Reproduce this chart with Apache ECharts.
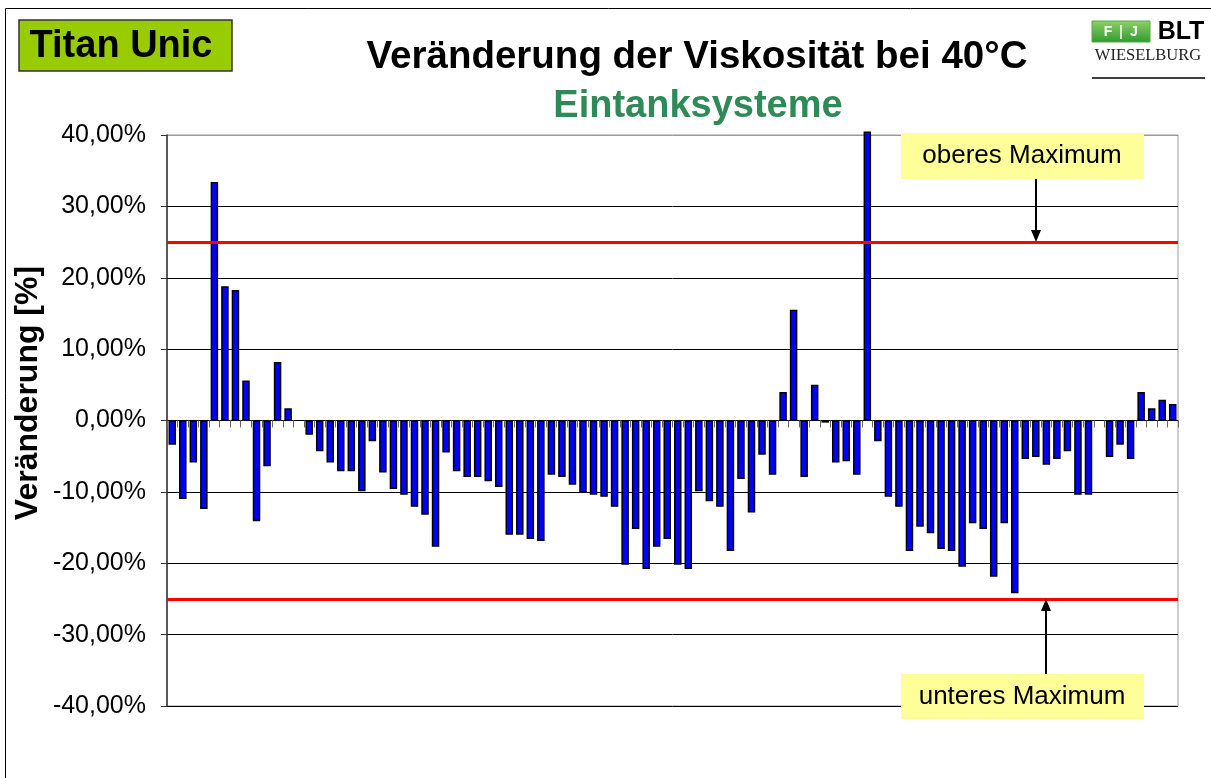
<!DOCTYPE html>
<html>
<head>
<meta charset="utf-8">
<title>Veränderung der Viskosität bei 40°C</title>
<script src="https://cdn.jsdelivr.net/npm/echarts@6/dist/echarts.min.js"></script>
<style>
  html, body { margin: 0; padding: 0; background: #fff; }
  #chart { width: 1211px; height: 778px; }
</style>
</head>
<body>
<div id="chart"></div>
<script>
// Veränderung der Viskosität je Probe [%] (null = kein Wert)
var werte = [
  -3.4, -11.0, -5.9, -12.4, 33.4, 18.8, 18.3, 5.6, -14.1, -6.4,
  8.2, 1.7, null, -2.0, -4.3, -5.9, -7.1, -7.1, -9.9, -2.9,
  -7.3, -9.6, -10.4, -12.1, -13.2, -17.7, -4.5, -7.1, -7.9, -7.9,
  -8.5, -9.3, -16.0, -16.0, -16.6, -16.9, -7.6, -7.9, -9.0, -10.1,
  -10.4, -10.7, -12.1, -20.2, -15.2, -20.8, -17.7, -16.6, -20.2, -20.8,
  -9.9, -11.3, -12.1, -18.3, -8.2, -12.9, -4.8, -7.6, 4.0, 15.5,
  -7.9, 5.0, -0.3, -5.9, -5.7, -7.6, 40.5, -2.9, -10.7, -12.1,
  -18.3, -14.9, -15.8, -18.0, -18.3, -20.5, -14.4, -15.2, -21.9, -14.4,
  -24.2, -5.4, -5.1, -6.2, -5.4, -4.3, -10.4, -10.4, null, -5.1,
  -3.4, -5.4, 4.0, 1.7, 2.9, 2.3
];
var proben = werte.map(function (v, i) { return String(i + 1); });
// Grenzwerte: oberes / unteres Maximum
var grenzen = [25, -25];
var yTicks = [-40, -30, -20, -10, 0, 10, 20, 30, 40];

var FONT = "'Liberation Sans', Arial, sans-serif";

(function () {
  var myChart = echarts.init(document.getElementById('chart'));
  var option = {
    animation: false,
    backgroundColor: '#fff',
    grid: {
      left: 167,
      right: 33,
      top: 135,
      bottom: 72,
      show: true,
      borderColor: '#999',
      borderWidth: 1
    },
    xAxis: {
      type: 'category',
      data: proben,
      axisLine: { onZero: true, lineStyle: { color: '#000', width: 1 } },
      axisTick: { show: true, interval: 0, length: 7, lineStyle: { color: '#666' } },
      axisLabel: { show: false },
      splitLine: { show: false }
    },
    yAxis: {
      type: 'value',
      min: yTicks[0],
      max: yTicks[yTicks.length - 1],
      interval: 10,
      axisLine: { show: true, lineStyle: { color: '#333', width: 1.5 } },
      axisTick: { show: true, length: 6, lineStyle: { color: '#333' } },
      axisLabel: {
        color: '#000',
        fontSize: 25,
        fontFamily: FONT,
        margin: 21,
        formatter: function (v) { return v.toFixed(2).replace('.', ',') + '%'; }
      },
      splitLine: {
        show: true,
        lineStyle: {
          color: ['#000', '#000', '#000', '#000', '#000', '#000', '#000', '#000', '#999'],
          width: 1
        }
      }
    },
    series: [{
      type: 'bar',
      data: werte,
      barWidth: 7.5,
      clip: false,
      itemStyle: { color: '#0000ff', borderColor: '#000', borderWidth: 1.5 },
      markLine: {
        silent: true,
        symbol: ['none', 'none'],
        label: { show: false },
        lineStyle: { color: '#ff0000', width: 3, type: 'solid' },
        data: grenzen.map(function (g) { return { yAxis: g }; })
      }
    }]
  };
  myChart.setOption(option);

  // Beschriftungen, Pfeile, Logo
  function zeichne() {
    var yOben = myChart.convertToPixel({ yAxisIndex: 0 }, grenzen[0]);
    var yUnten = myChart.convertToPixel({ yAxisIndex: 0 }, grenzen[1]);
    var g = [
      { type: 'rect', shape: { x: 5.5, y: 8.5, width: 1210, height: 780 },
        style: { fill: 'none', stroke: '#000', lineWidth: 1 }, z: 0 },
      { type: 'rect', shape: { x: 19, y: 20, width: 213, height: 51 },
        style: { fill: '#99cc00', stroke: '#333', lineWidth: 1.5 } },
      { type: 'text', x: 121, y: 47, style: { text: 'Titan Unic', fill: '#000',
        font: 'bold 38px ' + FONT, textAlign: 'center', textVerticalAlign: 'middle' } },
      { type: 'text', x: 697, y: 57, style: { text: 'Veränderung der Viskosität bei 40°C', fill: '#000',
        font: 'bold 38.5px ' + FONT, textAlign: 'center', textVerticalAlign: 'middle' } },
      { type: 'text', x: 698, y: 107, style: { text: 'Eintanksysteme', fill: '#2e8b57',
        font: 'bold 38px ' + FONT, textAlign: 'center', textVerticalAlign: 'middle' } },
      { type: 'text', x: 28, y: 393, rotation: Math.PI / 2, style: { text: 'Veränderung [%]', fill: '#000',
        font: 'bold 32px ' + FONT, textAlign: 'center', textVerticalAlign: 'middle' } },
      // oberes Maximum
      { type: 'rect', shape: { x: 901, y: 133, width: 243, height: 46 },
        style: { fill: '#ffff99', stroke: 'none' }, z: 10 },
      { type: 'text', x: 1022, y: 156, z: 11, style: { text: 'oberes Maximum', fill: '#000',
        font: '26px ' + FONT, textAlign: 'center', textVerticalAlign: 'middle' } },
      { type: 'line', shape: { x1: 1036, y1: 179, x2: 1036, y2: yOben - 10 },
        style: { stroke: '#000', lineWidth: 2 }, z: 11 },
      { type: 'polygon', shape: { points: [[1031, yOben - 12], [1041, yOben - 12], [1036, yOben]] },
        style: { fill: '#000' }, z: 11 },
      // unteres Maximum
      { type: 'rect', shape: { x: 901, y: 674, width: 243, height: 45 },
        style: { fill: '#ffff99', stroke: 'none' }, z: 10 },
      { type: 'text', x: 1022, y: 697, z: 11, style: { text: 'unteres Maximum', fill: '#000',
        font: '26px ' + FONT, textAlign: 'center', textVerticalAlign: 'middle' } },
      { type: 'line', shape: { x1: 1046, y1: 674, x2: 1046, y2: yUnten + 10 },
        style: { stroke: '#000', lineWidth: 2 }, z: 11 },
      { type: 'polygon', shape: { points: [[1041, yUnten + 12], [1051, yUnten + 12], [1046, yUnten]] },
        style: { fill: '#000' }, z: 11 },
      // Logo BLT Wieselburg
      { type: 'rect', shape: { x: 1092, y: 21, width: 58, height: 21 },
        style: { fill: new echarts.graphic.LinearGradient(0, 0, 0, 1, [
          { offset: 0, color: '#8fd06a' }, { offset: 1, color: '#2f9a2f' }]), stroke: '#5aa83e', lineWidth: 1 } },
      { type: 'text', x: 1108, y: 32, style: { text: 'F', fill: '#fff',
        font: 'bold 14px ' + FONT, textAlign: 'center', textVerticalAlign: 'middle' } },
      { type: 'line', shape: { x1: 1121, y1: 25, x2: 1121, y2: 39 }, style: { stroke: '#fff', lineWidth: 1.5 } },
      { type: 'text', x: 1134, y: 32, style: { text: 'J', fill: '#fff',
        font: 'bold 14px ' + FONT, textAlign: 'center', textVerticalAlign: 'middle' } },
      { type: 'text', x: 1181, y: 32, style: { text: 'BLT', fill: '#000',
        font: 'bold 25px ' + FONT, textAlign: 'center', textVerticalAlign: 'middle' } },
      { type: 'text', x: 1148, y: 56, style: { text: 'WIESELBURG', fill: '#222',
        font: "16.5px 'Liberation Serif', 'DejaVu Serif', serif", textAlign: 'center', textVerticalAlign: 'middle' } },
      { type: 'line', shape: { x1: 1092, y1: 78, x2: 1205, y2: 78 }, style: { stroke: '#000', lineWidth: 1.5 } }
    ];
    myChart.setOption({ graphic: g });
  }
  zeichne();

  window.addEventListener('resize', function () {
    myChart.resize();
    zeichne();
  });
})();
</script>
</body>
</html>
